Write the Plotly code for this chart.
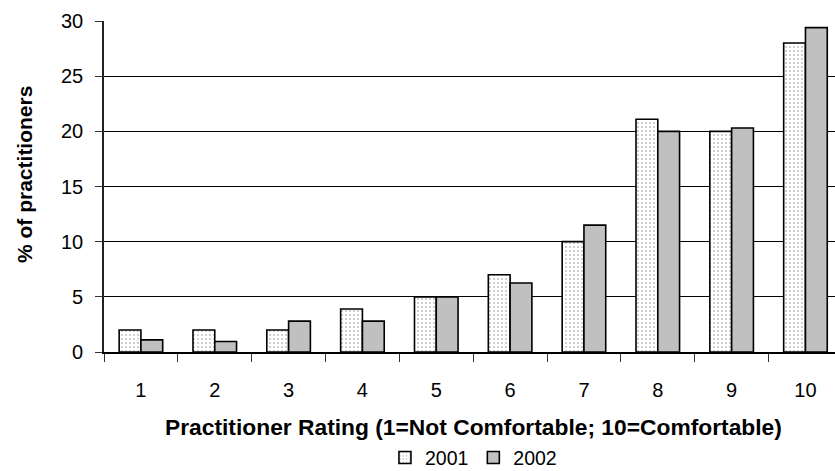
import plotly.graph_objects as go

ratings = [1, 2, 3, 4, 5, 6, 7, 8, 9, 10]
tick_labels = ["1", "2", "3", "4", "5", "6", "7", "8", "9", "10"]
pct_2001 = [2.0, 2.0, 2.0, 3.9, 5.0, 7.0, 10.0, 21.1, 20.0, 28.0]
pct_2002 = [1.1, 0.95, 2.8, 2.8, 5.0, 6.25, 11.5, 20.0, 20.3, 29.4]

FONT = "Liberation Sans, Arial, sans-serif"

fig = go.Figure()
fig.add_trace(go.Bar(
    x=ratings, y=pct_2001, name="2001",
    marker=dict(color="white",
                line=dict(color="black", width=1.6),
                pattern=dict(shape=".", fgcolor="#8a8a8a", bgcolor="white",
                             size=4, solidity=0.22)),
))
fig.add_trace(go.Bar(
    x=ratings, y=pct_2002, name="2002",
    marker=dict(color="#c0c0c0", line=dict(color="black", width=1.6)),
))

fig.update_layout(
    width=835, height=471,
    margin=dict(l=104, r=0, t=21, b=119),
    plot_bgcolor="white", paper_bgcolor="white",
    barmode="group", bargap=0.41, bargroupgap=0,
    font=dict(family=FONT, size=20, color="black"),
    showlegend=True,
    legend=dict(orientation="h", xref="container", yref="container",
                x=0.567, y=0.028, xanchor="center", yanchor="middle",
                font=dict(size=19.5), itemwidth=30, tracegroupgap=0,
                bgcolor="rgba(0,0,0,0)"),
    xaxis=dict(range=[0.5, 10.4], tickvals=ratings, ticktext=tick_labels,
               ticks="", ticklabelstandoff=19,
               showline=True, linecolor="black", linewidth=1.5,
               showgrid=False, zeroline=False,
               minor=dict(tick0=0.5, dtick=1, ticks="outside", ticklen=8,
                          tickcolor="#333", tickwidth=1.3, showgrid=False)),
    yaxis=dict(range=[0, 30], tickvals=[0, 5, 10, 15, 20, 25, 30],
               ticks="outside", ticklen=7, tickcolor="#333", tickwidth=1.3,
               ticklabelstandoff=8,
               showline=True, linecolor="#222", linewidth=1.6,
               showgrid=True, gridcolor="black", gridwidth=1,
               zeroline=False),
    annotations=[
        dict(text="<b>Practitioner Rating (1=Not Comfortable; 10=Comfortable)</b>",
             xref="paper", yref="paper", x=0.506, y=-0.2266,
             xanchor="center", yanchor="middle", showarrow=False,
             font=dict(size=22.8)),
        dict(text="<b>% of practitioners</b>", textangle=-90,
             xref="paper", yref="paper", x=-0.108, y=0.535,
             xanchor="center", yanchor="middle", showarrow=False,
             font=dict(size=21)),
    ],
)

fig.write_html("out.html")
